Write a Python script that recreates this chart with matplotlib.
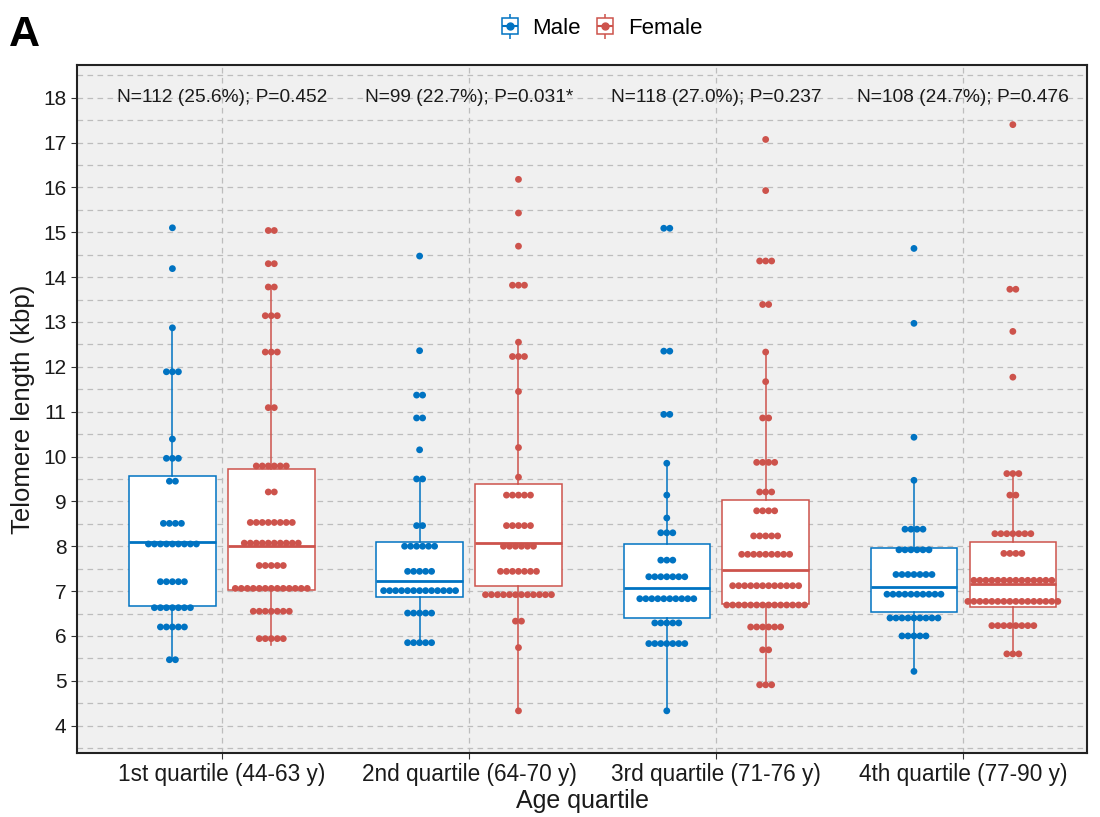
import numpy as np
import matplotlib
matplotlib.use("Agg")
import matplotlib.pyplot as plt
from matplotlib.lines import Line2D
from matplotlib.legend_handler import HandlerTuple

plt.rcParams['font.family'] = ['Liberation Sans', 'DejaVu Sans']

# ---------------- data ----------------
categories = ["1st quartile (44-63 y)", "2nd quartile (64-70 y)",
              "3rd quartile (71-76 y)", "4th quartile (77-90 y)"]
annotations = ["N=112 (25.6%); P=0.452", "N=99 (22.7%); P=0.031*",
               "N=118 (27.0%); P=0.237", "N=108 (24.7%); P=0.476"]

# dot-plot bins (value, count) per group
m1_y = [15.10, 14.19, 12.87, 11.89, 10.39, 9.96, 9.45, 8.51, 8.05, 7.21, 6.63, 6.20, 5.47]
m1_n = [1, 1, 1, 3, 1, 3, 2, 4, 9, 5, 7, 5, 2]
f1_y = [15.04, 14.30, 13.78, 13.14, 12.33, 11.09, 9.79, 9.21, 8.53, 8.07, 7.57, 7.06, 6.55, 5.94]
f1_n = [2, 2, 2, 3, 3, 2, 6, 2, 8, 10, 5, 13, 7, 5]

m2_y = [14.47, 12.36, 11.37, 10.86, 10.15, 9.50, 8.46, 8.00, 7.44, 7.01, 6.51, 5.85]
m2_n = [1, 1, 2, 2, 1, 2, 2, 6, 5, 13, 5, 5]
f2_y = [16.18, 15.43, 14.69, 13.82, 12.55, 12.23, 11.45, 10.20, 9.54, 9.14, 8.46, 8.00,
        7.44, 6.92, 6.33, 5.74, 4.33]
f2_n = [1, 1, 1, 3, 1, 3, 1, 1, 1, 5, 5, 6, 7, 12, 2, 1, 1]

m3_y = [15.09, 12.35, 10.94, 9.85, 9.14, 8.63, 8.30, 7.69, 7.32, 6.83, 6.29, 5.83, 4.33]
m3_n = [2, 2, 2, 1, 1, 1, 3, 3, 7, 10, 5, 7, 1]
f3_y = [17.07, 15.93, 14.36, 13.39, 12.33, 11.67, 10.86, 9.87, 9.21, 8.79, 8.23, 7.82,
        7.12, 6.69, 6.20, 5.69, 4.91]
f3_n = [1, 1, 3, 2, 1, 1, 2, 4, 3, 4, 5, 9, 12, 14, 6, 2, 3]

m4_y = [14.64, 12.97, 10.43, 9.47, 8.38, 7.92, 7.37, 6.93, 6.40, 6.00, 5.21]
m4_n = [1, 1, 1, 1, 4, 6, 7, 10, 9, 5, 1]
f4_y = [17.40, 13.73, 12.79, 11.77, 9.62, 9.14, 8.28, 7.84, 7.24, 6.77, 6.23, 5.60]
f4_n = [1, 2, 1, 1, 3, 2, 7, 4, 14, 16, 8, 3]

# box-plot statistics
male_q1 = [6.66, 6.86, 6.40, 6.53]
male_med = [8.10, 7.23, 7.08, 7.09]
male_q3 = [9.57, 8.10, 8.04, 7.95]
male_lo = [5.47, 5.85, 4.33, 5.21]
male_hi = [12.87, 9.50, 9.85, 9.47]

female_q1 = [7.03, 7.12, 6.71, 6.65]
female_med = [8.01, 8.07, 7.48, 7.15]
female_q3 = [9.72, 9.39, 9.04, 8.10]
female_lo = [5.79, 4.33, 4.88, 5.60]
female_hi = [13.78, 12.55, 12.33, 9.62]

male_color = "#0073C2"
female_color = "#CD534C"

# ---------------- figure ----------------
fig = plt.figure(figsize=(11, 8.17), dpi=100)
ax = fig.add_axes([77/1100, 1-753/817, (1087-77)/1100, (753-65)/817])
ax.set_facecolor("#F0F0F0")

x = np.arange(len(categories))
dodge = 0.2
bw = 0.35

def stats(q1, med, q3, lo, hi):
    return [dict(q1=a, med=b, q3=c, whislo=d, whishi=e, fliers=[])
            for a, b, c, d, e in zip(q1, med, q3, lo, hi)]

for st, pos, col in [(stats(male_q1, male_med, male_q3, male_lo, male_hi), x - dodge, male_color),
                     (stats(female_q1, female_med, female_q3, female_lo, female_hi), x + dodge, female_color)]:
    ax.bxp(st, positions=pos, widths=bw, showfliers=False, showcaps=False,
           patch_artist=True,
           boxprops=dict(facecolor="white", edgecolor=col, linewidth=1.1),
           whiskerprops=dict(color=col, linewidth=1.1),
           medianprops=dict(color=col, linewidth=2.0),
           zorder=2, manage_ticks=False)

dx = 6.0 / 247.3  # dot spacing in category units
male_groups = [(m1_y, m1_n), (m2_y, m2_n), (m3_y, m3_n), (m4_y, m4_n)]
female_groups = [(f1_y, f1_n), (f2_y, f2_n), (f3_y, f3_n), (f4_y, f4_n)]
for groups, sign, col in [(male_groups, -1, male_color), (female_groups, 1, female_color)]:
    for i, (ys, ns) in enumerate(groups):
        xs, yy = [], []
        for v, n in zip(ys, ns):
            offs = (np.arange(n) - (n - 1) / 2) * dx
            xs.extend(x[i] + sign * dodge + offs)
            yy.extend([v] * n)
        ax.scatter(xs, yy, s=24, color=col, edgecolors='none', zorder=4)

for i, t in enumerate(annotations):
    ax.text(x[i], 18, t, ha='center', va='center', fontsize=13.8, color='#1a1a1a', zorder=5)

ax.set_xlim(-0.586, 3.5)
ax.set_ylim(3.39, 18.73)
ax.set_yticks(np.arange(4, 19))
ax.set_yticks(np.arange(3.5, 19, 1.0), minor=True)
ax.set_xticks(x)
ax.set_xticklabels(categories)
ax.tick_params(axis='both', which='major', labelsize=15, length=4, color='#333333', labelcolor='#1a1a1a')
ax.tick_params(axis='x', labelsize=16.3)
ax.tick_params(axis='y', which='minor', length=0)

grid_kw = dict(color='#BDBDBD', linestyle=(0, (4.5, 3.5)), linewidth=0.9)
ax.grid(True, axis='y', which='both', **grid_kw)
ax.grid(True, axis='x', which='major', **grid_kw)
ax.set_axisbelow(True)
for sp in ax.spines.values():
    sp.set_color('#222222')
    sp.set_linewidth(1.5)

ax.set_xlabel("Age quartile", fontsize=18, color='#1a1a1a', labelpad=2)
ax.set_ylabel("Telomere length (kbp)", fontsize=18.5, color='#1a1a1a', labelpad=6)

def key(col):
    return (Line2D([], [], marker='|', markersize=18, color=col, linestyle='none', markeredgewidth=1.1),
            Line2D([], [], marker='s', markersize=11, markerfacecolor='white', markeredgecolor=col,
                   linestyle='none', markeredgewidth=1.1),
            Line2D([], [], marker='_', markersize=11, color=col, linestyle='none', markeredgewidth=1.5),
            Line2D([], [], marker='o', markersize=5, color=col, linestyle='none'))

fig.legend([key(male_color), key(female_color)], ["Male", "Female"],
           handler_map={tuple: HandlerTuple(ndivide=1)},
           loc='center', bbox_to_anchor=(0.545, 0.965), ncol=2, frameon=False,
           fontsize=16, handlelength=1.2, handletextpad=0.4, columnspacing=0.5)

fig.text(9/1100, 1-35/817, "A", fontsize=31, fontweight='heavy', va='center', ha='left')

fig.savefig("out.png", dpi=100)
